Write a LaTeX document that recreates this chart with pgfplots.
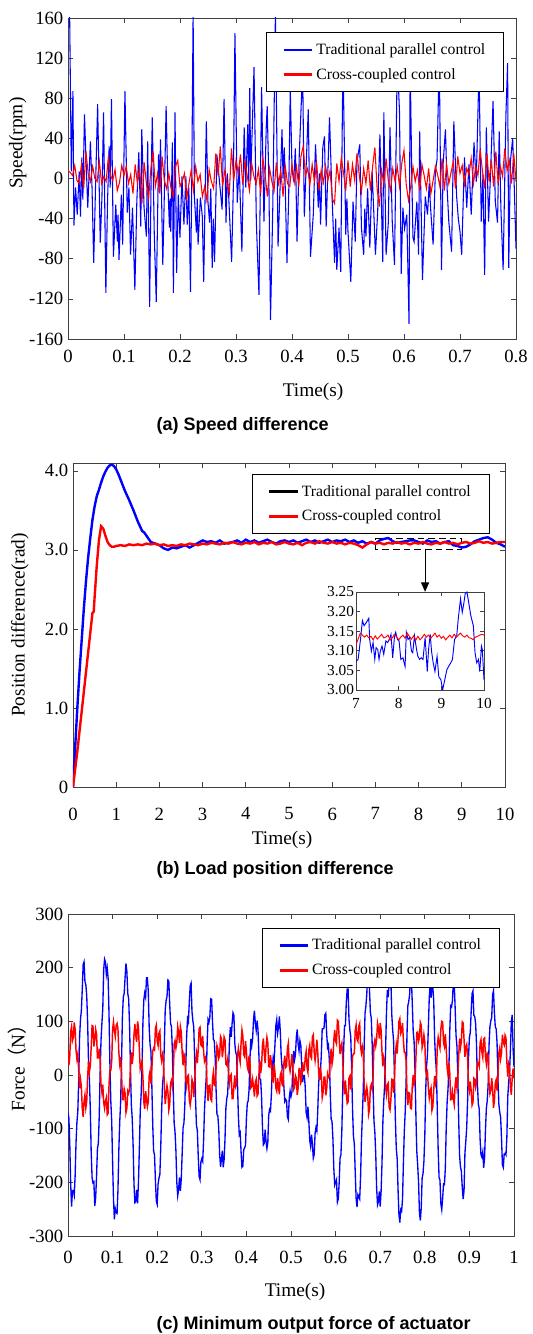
\documentclass[border=0pt]{standalone}
\usepackage{pgfplots}
\usepackage{pgfplotstable}
\pgfplotsset{compat=1.18}
\usepackage{fontspec}
\setmainfont{Liberation Serif}
\newfontfamily\arialf{Liberation Sans}
\newfontfamily\cjk{Noto Sans CJK SC}
\usetikzlibrary{arrows.meta}

% ---------------- panel (a) data: t in ms ----------------
\pgfplotstableread{
t v
0 165
3 160
5.9 7
8.8 87
10.6 -47
13.5 -9
16.5 -36
20 7
22.3 -38
24.7 21
26.5 -21
29.4 64
32.3 17
35.3 -29
40 37
42.9 -9
45.9 -84
49.4 -3
52.9 74
57.6 -64
60.6 -19
63.5 66
67.6 -114
70.6 -23
73.5 32
75.3 -9
77.6 79
81.1 -78
85.3 -26
88.2 -63
89.4 -36
91.1 -81
95.3 -16
97.6 -66
101.7 87
105.8 -34
108.8 -9
111.7 -76
115.2 -29
119.4 -111
122.9 -23
126.4 26
130 -48
131.7 49
135.8 -29
140 -58
142.3 37
145.8 -128
148.2 -9
150.5 61
154 -54
157.6 -123
161.7 24
163.5 -9
165.2 39
169.3 -86
172.3 -9
175.2 72
178.2 -3
181.1 -49
182.3 -20
183.5 -53
186.4 36
188.2 -114
191.1 66
194 -94
197 -16
199.9 -59
203.5 2
207 -46
210.5 2
212.9 -46
215.8 -9
218.7 -113
221 -3
223.4 165
225.8 -19
229.3 -54
230.8 -20
232.3 -66
236.4 -19
239.9 -38
242.3 -103
247 57
249.9 -23
252.8 -44
255 -10
257.5 -89
259.5 -40
261.7 -83
265.8 24
270.5 -3
275.2 -31
278.7 79
282.2 -44
284.5 5
287 -18
292.2 -83
295.2 -9
298.1 145
302.2 -24
305.8 12
310.5 -73
314.6 51
317.5 -9
321 54
322.8 -3
324.6 90
326.3 -1
332.2 111
336.3 -43
341 -116
345.7 91
349.9 -43
354 51
355.7 72
358.7 -3
361.6 -141
365.7 -29
370.4 165
375.1 -68
378.7 -9
382.2 49
384 0
386.3 31
391 -84
394 -20
396.9 89
400 10
403 -3
406 30
409 -63
413 24
419 110
422 -38
429 69
433 -78
438 -36
442 34
447 -29
449 5
451 -46
455 31
458 42
461 -48
467 61
471 -10
476 -84
478 -40
480 -91
484 -49
487 -93
491 120
496 -56
498 -20
500 -53
505 -103
509 -23
513 -63
516 17
521 34
524 -49
528 -76
530 -30
532 -58
535 -10
539 -69
543 7
546 -33
549 -76
553 -33
557 44
562 -83
564 66
568 -76
572 -44
575 51
579 -43
583 -86
588 120
592 66
595 -95
598 -29
601 -50
605 -36
609 -145
611 115
614 0
616 -59
618 -63
623 -23
626 -76
628 47
633 -101
638 -18
642 -36
645 -5
648 -34
652 -66
656 7
659 19
663 120
667 -91
670 16
674 49
677 -10
680 -43
685 -73
689 57
694 -18
697 -40
700 -53
703 -76
708 21
712 -29
716 14
720 -36
725 36
729 -3
734 110
738 -43
741 4
744 -96
747 51
751 -43
754 -3
759 77
763 -23
767 -44
770 47
773 -29
777 -91
782 64
785 115
787 -89
790 17
794 40
797 -10
800 -70
}\tblAblue

\pgfplotstableread{
t v
0 8
4 6
8 3
12 13
16 -2
20 -5
24 14
28 -10
32 27
36 5
40 -3
44 12
48 0
52 -3
56 17
60 -5
64 2
68 -3
72 21
76 3
80 -2
84 9
88 -12
92 -4
96 13
100 3
104 12
108 -5
112 4
116 -15
120 14
124 -5
128 10
132 -25
136 16
140 -5
144 -20
148 10
152 27
156 -8
160 5
164 -15
168 22
172 -2
176 -10
180 5
184 -10
188 -18
192 12
196 18
200 -8
204 -3
208 5
212 -20
216 -5
220 8
224 -12
228 12
232 -3
236 4
240 -18
244 -8
248 -22
252 9
256 -3
260 -10
264 25
268 3
272 32
276 -8
280 8
284 -6
288 -15
292 30
296 -2
300 18
304 5
308 24
312 -6
316 17
320 3
324 -12
328 15
332 2
336 -5
340 9
344 -15
348 20
352 4
356 -18
360 10
364 -3
368 -12
372 16
376 -5
380 8
384 -18
388 12
392 -5
396 -8
400 14
404 -4
408 12
412 -8
416 22
420 32
424 3
428 10
432 -6
436 14
440 -3
444 15
448 -12
452 8
456 -4
460 12
464 -2
468 8
472 -20
476 -25
480 15
484 -3
488 20
492 6
496 -12
500 18
504 -8
508 14
512 -2
516 25
520 4
524 -13
528 10
532 -5
536 18
540 -12
544 12
548 31
552 -10
556 -28
560 8
564 -5
568 20
572 -2
576 -12
580 10
584 -3
588 12
592 -8
596 15
600 28
604 -6
608 -22
612 -8
616 12
620 -3
624 8
628 -12
632 14
636 3
640 -10
644 10
648 -15
652 -2
656 12
660 4
664 -8
668 20
672 -12
676 14
680 -5
684 6
688 17
692 -10
696 22
700 5
704 13
708 -6
712 10
716 4
720 20
724 -5
728 12
732 3
736 29
740 8
744 -10
748 25
752 -3
756 18
760 -8
764 27
768 -5
772 12
776 2
780 30
784 8
788 18
792 -5
796 25
800 -3
}\tblAred

% ---------------- panel (b) data: t in s ----------------
\pgfplotstableread{
t v
0 0
0.05 0.5
0.1 1.0
0.15 1.45
0.2 1.85
0.25 2.25
0.3 2.6
0.35 2.9
0.4 3.15
0.45 3.38
0.5 3.55
0.55 3.68
0.6 3.76
0.65 3.85
0.7 3.93
0.75 3.99
0.8 4.04
0.85 4.07
0.9 4.08
0.95 4.06
1.0 4.02
1.05 3.96
1.1 3.89
1.15 3.82
1.2 3.75
1.3 3.63
1.4 3.5
1.5 3.36
1.6 3.24
1.65 3.22
1.7 3.18
1.8 3.1
1.9 3.08
2.0 3.06
2.1 3.02
2.2 3.0
2.3 3.03
2.4 3.02
2.5 3.04
2.6 3.06
2.7 3.03
2.8 3.06
2.9 3.09
3.0 3.12
3.1 3.1
3.2 3.11
3.3 3.09
3.4 3.12
3.5 3.08
3.6 3.09
3.7 3.1
3.8 3.12
3.9 3.09
4.0 3.13
4.1 3.1
4.2 3.12
4.3 3.09
4.4 3.11
4.5 3.13
4.6 3.1
4.7 3.08
4.8 3.11
4.9 3.12
5.0 3.1
5.1 3.12
5.2 3.09
5.3 3.11
5.4 3.13
5.5 3.1
5.6 3.12
5.7 3.09
5.8 3.11
5.9 3.13
6.0 3.1
6.1 3.12
6.2 3.11
6.3 3.13
6.4 3.1
6.5 3.12
6.6 3.09
6.7 3.11
6.8 3.08
6.9 3.1
7.0 3.08
7.1 3.12
7.2 3.14
7.3 3.15
7.4 3.11
7.5 3.09
7.6 3.1
7.7 3.11
7.8 3.12
7.9 3.12
8.0 3.1
8.1 3.08
8.2 3.12
8.3 3.1
8.4 3.11
8.5 3.08
8.6 3.1
8.7 3.11
8.8 3.06
8.9 3.05
9.0 3.03
9.1 3.04
9.2 3.07
9.3 3.11
9.4 3.13
9.5 3.15
9.6 3.16
9.7 3.13
9.8 3.09
9.9 3.07
10.0 3.04
}\tblBblue

\pgfplotstableread{
t v
0 0
0.1 0.45
0.2 0.95
0.3 1.45
0.4 1.95
0.45 2.2
0.48 2.22
0.5 2.4
0.55 2.8
0.6 3.12
0.65 3.3
0.7 3.27
0.75 3.18
0.8 3.1
0.85 3.06
0.9 3.04
0.95 3.04
1.0 3.05
1.1 3.06
1.2 3.05
1.3 3.07
1.4 3.06
1.5 3.07
1.6 3.06
1.7 3.08
1.8 3.07
1.9 3.08
2.0 3.06
2.1 3.07
2.2 3.05
2.3 3.06
2.4 3.05
2.5 3.07
2.6 3.06
2.7 3.08
2.8 3.07
2.9 3.06
3.0 3.08
3.1 3.07
3.2 3.09
3.3 3.08
3.4 3.07
3.5 3.09
3.6 3.08
3.7 3.1
3.8 3.08
3.9 3.07
4.0 3.09
4.1 3.08
4.2 3.1
4.3 3.07
4.4 3.09
4.5 3.08
4.6 3.1
4.7 3.07
4.8 3.08
4.9 3.1
5.0 3.08
5.1 3.07
5.2 3.09
5.3 3.06
5.4 3.09
5.5 3.1
5.6 3.08
5.7 3.11
5.8 3.09
5.9 3.08
6.0 3.1
6.1 3.08
6.2 3.09
6.3 3.07
6.4 3.09
6.5 3.08
6.6 3.06
6.7 3.03
6.8 3.07
6.9 3.1
7.0 3.08
7.1 3.09
7.2 3.07
7.3 3.09
7.4 3.08
7.5 3.1
7.6 3.08
7.7 3.09
7.8 3.07
7.9 3.09
8.0 3.08
8.1 3.1
8.2 3.08
8.3 3.07
8.4 3.09
8.5 3.08
8.6 3.1
8.7 3.08
8.8 3.09
8.9 3.07
9.0 3.09
9.1 3.1
9.2 3.08
9.3 3.09
9.4 3.11
9.5 3.09
9.6 3.1
9.7 3.08
9.8 3.09
9.9 3.1
10.0 3.1
}\tblBred

\pgfplotstableread{
t v
7.0 3.073
7.05 3.078
7.11 3.134
7.15 3.177
7.19 3.164
7.24 3.172
7.30 3.183
7.32 3.129
7.36 3.099
7.40 3.121
7.44 3.078
7.47 3.108
7.51 3.103
7.54 3.078
7.57 3.099
7.61 3.112
7.65 3.091
7.70 3.125
7.74 3.121
7.78 3.129
7.82 3.142
7.86 3.082
7.90 3.134
7.93 3.147
7.97 3.129
8.01 3.125
8.05 3.078
8.10 3.082
8.15 3.060
8.18 3.147
8.22 3.129
8.26 3.134
8.30 3.099
8.33 3.095
8.37 3.138
8.42 3.103
8.45 3.086
8.49 3.078
8.53 3.082
8.57 3.078
8.62 3.134
8.67 3.047
8.70 3.103
8.74 3.142
8.77 3.099
8.81 3.069
8.85 3.047
8.90 3.086
8.94 3.034
8.99 3.026
9.03 3.0
9.08 3.026
9.13 3.052
9.17 3.060
9.22 3.069
9.26 3.078
9.31 3.129
9.36 3.138
9.40 3.185
9.45 3.233
9.49 3.198
9.52 3.216
9.56 3.246
9.60 3.25
9.64 3.224
9.69 3.19
9.75 3.164
9.79 3.095
9.83 3.069
9.87 3.078
9.90 3.047
9.94 3.112
9.96 3.103
10.0 3.026
}\tblIblue

\pgfplotstableread{
t v
7.0 3.115
7.05 3.13
7.1 3.145
7.15 3.14
7.2 3.135
7.25 3.14
7.3 3.133
7.35 3.137
7.4 3.128
7.45 3.138
7.5 3.13
7.55 3.136
7.6 3.142
7.65 3.133
7.7 3.135
7.75 3.14
7.8 3.127
7.85 3.133
7.9 3.142
7.95 3.136
8.0 3.128
8.05 3.135
8.1 3.14
8.15 3.132
8.2 3.145
8.25 3.137
8.3 3.13
8.35 3.138
8.4 3.127
8.45 3.137
8.5 3.128
8.55 3.134
8.6 3.142
8.65 3.135
8.7 3.14
8.75 3.132
8.8 3.138
8.85 3.145
8.9 3.135
8.95 3.14
9.0 3.132
9.05 3.137
9.1 3.128
9.15 3.134
9.2 3.14
9.25 3.133
9.3 3.142
9.35 3.135
9.4 3.14
9.45 3.145
9.5 3.138
9.55 3.135
9.6 3.14
9.65 3.133
9.7 3.132
9.75 3.128
9.8 3.135
9.85 3.137
9.9 3.14
9.95 3.142
10.0 3.14
}\tblIred

% ---------------- panel (c) data: t in ms ----------------
\pgfplotstableread{
t v
0 -70
2 -80
4 -129
6 -203
8 -245
10 -216
12 -215
14 -224
16 -188
18 -126
20 -88
22 -68
24 -11
26 71
28 104
30 120
32 160
34 206
36 211
38 174
40 168
42 148
44 99
46 24
48 -7
50 -64
52 -144
54 -191
56 -201
58 -199
60 -244
62 -229
64 -189
66 -138
68 -127
70 -78
72 3
74 64
76 96
78 124
80 196
82 216
84 211
86 187
88 199
90 180
92 112
94 20
96 -49
98 -86
100 -162
102 -232
104 -269
106 -249
108 -256
110 -258
112 -215
114 -139
116 -87
118 -51
120 22
122 108
124 145
126 152
128 182
130 208
132 193
134 152
136 142
138 93
140 15
142 -55
144 -81
146 -131
148 -204
150 -238
152 -236
154 -214
156 -239
158 -200
160 -137
162 -67
164 -36
166 15
168 98
170 140
172 153
174 145
176 181
178 181
180 156
182 89
184 57
186 43
188 -20
190 -93
192 -142
194 -149
196 -196
198 -235
200 -241
202 -203
204 -192
206 -185
208 -134
210 -64
212 -18
214 1
216 56
218 122
220 139
222 146
224 177
226 175
228 133
230 96
232 90
234 46
236 -27
238 -89
240 -106
242 -142
244 -201
246 -225
248 -213
250 -191
252 -216
254 -193
256 -146
258 -98
260 -89
262 -55
264 12
266 73
268 105
270 99
272 137
274 166
276 171
278 118
280 101
282 89
284 29
286 -45
288 -94
290 -103
292 -151
294 -189
296 -195
298 -162
300 -156
302 -161
304 -122
306 -65
308 -32
310 -4
312 60
314 103
316 98
318 108
320 142
322 141
324 99
326 66
328 64
330 33
332 -27
334 -74
336 -76
338 -100
340 -148
342 -171
344 -157
346 -141
348 -172
350 -158
352 -120
354 -62
356 -44
358 -35
360 6
362 62
364 89
366 71
368 97
370 116
372 111
374 59
376 42
378 37
380 -16
382 -76
384 -111
386 -107
388 -142
390 -172
392 -170
394 -139
396 -136
398 -131
400 -82
402 -53
404 -48
406 -27
408 31
410 67
412 55
414 68
416 104
418 120
420 96
422 83
424 101
426 84
428 38
430 -7
432 -9
434 -41
436 -96
438 -130
440 -127
442 -102
444 -124
446 -137
448 -126
450 -75
452 -64
454 -67
456 -37
458 11
460 32
462 22
464 56
466 92
468 103
470 78
472 89
474 109
476 81
478 36
480 14
482 16
484 -21
486 -49
488 -45
490 -48
492 -78
494 -83
496 -44
498 -30
500 -40
502 -32
504 13
506 45
508 28
510 38
512 71
514 85
516 58
518 45
520 64
522 55
524 18
526 -13
528 -1
530 -1
532 -24
534 -70
536 -79
538 -59
540 -86
542 -122
544 -133
546 -111
548 -129
550 -155
552 -148
554 -109
556 -98
558 -104
560 -66
562 -17
564 9
566 6
568 38
570 86
572 86
574 87
576 112
578 115
580 77
582 51
584 56
586 26
588 -32
590 -82
592 -87
594 -119
596 -174
598 -205
600 -200
602 -195
604 -237
606 -231
608 -201
610 -155
612 -148
614 -103
616 -26
618 47
620 92
622 92
624 136
626 160
628 160
630 104
632 84
634 71
636 10
638 -64
640 -114
642 -128
644 -181
646 -230
648 -246
650 -223
652 -227
654 -231
656 -190
658 -121
660 -75
662 -29
664 53
666 115
668 129
670 152
672 198
674 198
676 158
678 116
680 106
682 58
684 -19
686 -85
688 -107
690 -147
692 -211
694 -242
696 -236
698 -217
700 -245
702 -217
704 -165
706 -87
708 -48
710 -18
712 44
714 115
716 158
718 145
720 176
722 188
724 176
726 112
728 84
730 64
732 -4
734 -82
736 -136
738 -155
740 -213
742 -260
744 -275
746 -251
748 -254
750 -232
752 -165
754 -106
756 -70
758 -16
760 73
762 129
764 137
766 150
768 186
770 179
772 132
774 81
776 62
778 8
780 -73
782 -142
784 -167
786 -200
788 -257
790 -271
792 -248
794 -192
796 -184
798 -161
800 -114
802 -29
804 17
806 38
808 90
810 144
812 169
814 144
816 162
818 163
820 139
822 68
824 32
826 7
828 -65
830 -140
832 -191
834 -196
836 -240
838 -251
840 -230
842 -203
844 -204
846 -174
848 -100
850 -52
852 -27
854 10
856 82
858 129
860 127
862 139
864 174
866 170
868 126
870 74
872 54
874 -1
876 -84
878 -150
880 -172
882 -179
884 -210
886 -231
888 -215
890 -145
892 -123
894 -97
896 -47
898 32
900 70
902 79
904 119
906 152
908 157
910 111
912 109
914 95
916 56
918 -17
920 -54
922 -63
924 -120
926 -149
928 -153
930 -143
932 -173
934 -154
936 -103
938 -62
940 -48
942 -18
944 55
946 90
948 101
950 107
952 149
954 157
956 117
958 90
960 86
962 60
964 -7
966 -54
968 -69
970 -79
972 -117
974 -167
976 -172
978 -147
980 -146
982 -149
984 -116
986 -41
988 -14
990 5
992 47
994 100
996 112
998 48
1000 15
}\tblCblue

\pgfplotstableread{
t v
0 44
2 18
4 35
6 81
8 90
10 64
12 70
14 98
16 85
18 46
20 30
22 39
24 7
26 -25
28 -8
30 -22
32 -63
34 -78
36 -49
38 -37
40 -61
42 -49
44 -4
46 25
48 6
50 17
52 52
54 92
56 91
58 53
60 65
62 85
64 76
66 32
68 32
70 49
72 30
74 -17
76 -32
78 -18
80 -51
82 -62
84 -49
86 -42
88 -74
90 -71
92 -18
94 9
96 9
98 25
100 85
102 99
104 83
106 72
108 92
110 96
112 86
114 42
116 21
118 33
120 5
122 -46
124 -46
126 -26
128 -34
130 -70
132 -62
134 -30
136 -34
138 -26
140 15
142 42
144 21
146 37
148 76
150 95
152 73
154 62
156 100
158 88
160 47
162 11
164 18
166 25
168 -5
170 -50
172 -63
174 -30
176 -44
178 -59
180 -50
182 -2
184 7
186 -16
188 11
190 45
192 50
194 47
196 87
198 93
200 63
202 55
204 78
206 82
208 37
210 26
212 38
214 29
216 -21
218 -54
220 -37
222 -20
224 -31
226 -65
228 -55
230 -15
232 -10
234 -21
236 1
238 57
240 64
242 50
244 60
246 90
248 79
250 60
252 90
254 80
256 41
258 18
260 39
262 34
264 -8
266 -21
268 -2
270 0
272 -46
274 -56
276 -42
278 -8
280 -14
282 -41
284 -17
286 26
288 40
290 22
292 47
294 86
296 89
298 56
300 54
302 73
304 44
306 26
308 32
310 24
312 -25
314 -48
316 -20
318 -19
320 -45
322 -48
324 -7
326 5
328 -19
330 -20
332 12
334 55
336 49
338 31
340 36
342 72
344 68
346 33
348 48
350 71
352 66
354 20
356 18
358 29
360 4
362 -15
364 -2
366 1
368 -44
370 -44
372 -20
374 -1
376 -22
378 -18
380 36
382 49
384 34
386 24
388 58
390 84
392 73
394 38
396 34
398 63
400 44
402 15
404 9
406 36
408 23
410 -24
412 -21
414 -8
416 -23
418 -40
420 -13
422 -8
424 -39
426 -36
428 0
430 26
432 3
434 17
436 55
438 68
440 41
442 22
444 52
446 70
448 60
450 16
452 15
454 37
456 23
458 -10
460 -12
462 21
464 6
466 -24
468 -30
470 -6
472 -22
474 -36
476 0
478 5
480 -18
482 -20
484 21
486 36
488 14
490 16
492 50
494 59
496 19
498 7
500 18
502 39
504 20
506 -27
508 -23
510 -1
512 -6
514 -37
516 -24
518 12
520 12
522 -14
524 -9
526 24
528 8
530 9
532 34
534 44
536 13
538 5
540 46
542 55
544 35
546 31
548 71
550 75
552 43
554 27
556 42
558 66
560 42
562 5
564 -9
566 14
568 -2
570 -42
572 -32
574 -4
576 -4
578 -38
580 -27
582 2
584 -5
586 -4
588 29
590 49
592 20
594 31
596 65
598 84
600 63
602 58
604 102
606 100
608 69
610 39
612 52
614 59
616 30
618 -19
620 -36
622 -10
624 -32
626 -53
628 -50
630 -6
632 -2
634 -27
636 -1
638 34
640 40
642 40
644 83
646 93
648 67
650 63
652 91
654 96
656 53
658 41
660 52
662 40
664 -13
666 -50
668 -36
670 -23
672 -37
674 -73
676 -64
678 -23
680 -18
682 -26
684 -2
686 56
688 65
690 54
692 66
694 97
696 88
698 68
700 97
702 84
704 43
706 16
708 33
710 24
712 -21
714 -36
716 -18
718 -15
720 -60
722 -65
724 -46
726 -8
728 -9
730 -33
732 -6
734 39
736 56
738 40
740 68
742 100
744 105
746 77
748 81
750 97
752 65
754 42
756 42
758 27
760 -29
762 -56
764 -33
766 -34
768 -62
770 -63
772 -19
774 0
776 -17
778 -9
780 30
782 79
784 80
786 63
788 69
790 98
792 93
794 51
796 59
798 75
800 62
802 9
804 -1
806 5
808 -24
810 -43
812 -30
814 -24
816 -66
818 -59
820 -28
822 -2
824 -16
826 -6
828 53
830 70
832 58
834 50
836 85
838 100
840 99
842 60
844 53
846 76
848 51
850 14
852 1
854 23
856 4
858 -46
860 -45
862 -31
864 -45
866 -55
868 -20
870 -4
872 -23
874 -9
876 37
878 68
880 51
882 63
884 99
886 97
888 66
890 34
892 52
894 57
896 34
898 -20
900 -30
902 -12
904 -29
906 -56
908 -51
910 -6
912 -8
914 -23
916 -14
918 24
920 22
922 16
924 60
926 66
928 43
930 33
932 67
934 69
936 34
938 21
940 40
942 36
944 -16
946 -35
948 -29
950 -6
952 -23
954 -61
956 -49
958 -15
960 -9
962 -29
964 -5
966 41
968 50
970 30
972 41
974 75
976 61
978 56
980 74
982 69
984 24
986 -3
988 20
990 12
992 -24
994 -37
996 -5
998 12
1000 -6
}\tblCred

\pgfplotsset{
  matlab/.style={
    scale only axis,
    axis line style={draw=black!75, line width=0.6pt},
    tick style={draw=black!75, line width=0.5pt},
    major tick length=4pt,
    tick align=inside,
    tick pos=both,
    ticklabel style={font=\fontsize{14}{14}\selectfont},
    label style={font=\fontsize{14.5}{16}\selectfont},
    /pgf/number format/assume math mode=true,
    legend cell align=left,
    legend image code/.code={\draw[##1] (0pt,0pt) -- (21.5pt,0pt);},
  },
  mylegend/.style={
    legend style={at={(#1)}, anchor=north east, draw=black, line width=0.7pt,
      fill=white, font=\fontsize{11.8}{13}\selectfont,
      inner xsep=12pt, inner ysep=6pt, row sep=5pt},
  },
}

\begin{document}
\begin{tikzpicture}
\path[use as bounding box] (0pt,0pt) rectangle (399pt,1000.5pt);

% ================= panel (a) =================
\begin{axis}[matlab,
  at={(51pt,746.25pt)}, anchor=south west,
  width=336pt, height=240.75pt,
  xmin=0, xmax=0.8, ymin=-160, ymax=160,
  xtick={0,0.1,0.2,0.3,0.4,0.5,0.6,0.7,0.8},
  xticklabels={0,0.1,0.2,0.3,0.4,0.5,0.6,0.7,0.8},
  ytick={-160,-120,-80,-40,0,40,80,120,160},
  yticklabels={-160,-120,-80,-40,0,40,80,120,160},
  xticklabel style={yshift=-5pt},
  xlabel={Time(s)}, ylabel={Speed(rpm)},
  xlabel style={at={(axis description cs:0.547,-0.165)}, anchor=center},
  ylabel style={at={(axis description cs:-0.112,0.61)}, anchor=center, rotate=0},
  mylegend={0.974,0.956},
]
\addplot[blue, line width=0.8pt, forget plot] table[x expr=\thisrow{t}/1000, y=v] {\tblAblue};
\addplot[red, line width=0.8pt, forget plot] table[x expr=\thisrow{t}/1000, y=v] {\tblAred};
\addlegendimage{blue, line width=1.8pt}
\addlegendentry{Traditional parallel control}
\addlegendimage{red, line width=1.8pt}
\addlegendentry{Cross-coupled control}
\end{axis}
\node[anchor=west, font=\arialf\bfseries\fontsize{13.5}{15}\selectfont] at (114pt,681pt) {(a) Speed difference};

% ================= panel (b) =================
\begin{axis}[matlab,
  at={(54.75pt,410.25pt)}, anchor=south west,
  width=324pt, height=243pt,
  xmin=0, xmax=10, ymin=0, ymax=4.1,
  xtick={0,1,2,3,4,5,6,7,8,9,10},
  ytick={0,1,2,3,4},
  yticklabels={0,1.0,2.0,3.0,4.0},
  xticklabel style={yshift=-12pt},
  xlabel={Time(s)}, ylabel={Position difference(rad)},
  xlabel style={at={(axis description cs:0.484,-0.163)}, anchor=center},
  ylabel style={at={(axis description cs:-0.123,0.5)}, anchor=center},
  mylegend={0.965,0.966},
]
\draw[black, line width=0.8pt, dash pattern=on 5pt off 3pt] (axis cs:7,3.0) rectangle (axis cs:9,3.14);
\draw[black, line width=0.8pt, -{Triangle[length=7pt,width=6pt]}] (axis cs:8.15,3.0) -- (axis cs:8.15,2.47);
\addplot[blue, line width=1.8pt, forget plot] table[x=t, y=v] {\tblBblue};
\addplot[red, line width=1.8pt, forget plot] table[x=t, y=v] {\tblBred};
\addlegendimage{black, line width=1.8pt}
\addlegendentry{Traditional parallel control}
\addlegendimage{red, line width=1.8pt}
\addlegendentry{Cross-coupled control}
\end{axis}

% inset
\begin{axis}[matlab,
  at={(267pt,483pt)}, anchor=south west,
  width=96pt, height=73.5pt,
  xmin=7, xmax=10, ymin=3.0, ymax=3.25,
  xtick={7,8,9,10},
  ytick={3.0,3.05,3.1,3.15,3.2,3.25},
  yticklabels={3.00,3.05,3.10,3.15,3.20,3.25},
  ticklabel style={font=\fontsize{11.5}{11.5}\selectfont},
  yticklabel style={xshift=2pt},
  xticklabel style={yshift=-3pt},
  major tick length=3pt,
  axis background/.style={fill=white},
]
\addplot[blue, line width=0.7pt] table[x=t, y=v] {\tblIblue};
\addplot[red, line width=0.7pt] table[x=t, y=v] {\tblIred};
\end{axis}
\node[anchor=west, font=\arialf\bfseries\fontsize{13.5}{15}\selectfont] at (114pt,348pt) {(b) Load position difference};

% ================= panel (c) =================
\begin{axis}[matlab,
  at={(51pt,73.5pt)}, anchor=south west,
  width=334.5pt, height=241.5pt,
  xmin=0, xmax=1, ymin=-300, ymax=300,
  xtick={0,0.1,0.2,0.3,0.4,0.5,0.6,0.7,0.8,0.9,1},
  xticklabels={0,0.1,0.2,0.3,0.4,0.5,0.6,0.7,0.8,0.9,1},
  ytick={-300,-200,-100,0,100,200,300},
  yticklabels={-300,-200,-100,0,100,200,300},
  xticklabel style={yshift=-8pt},
  xlabel={Time(s)}, ylabel={Force{\cjk（}N{\cjk）}},
  xlabel style={at={(axis description cs:0.509,-0.174)}, anchor=center},
  ylabel style={at={(axis description cs:-0.114,0.537)}, anchor=center},
  mylegend={0.969,0.957},
]
\addplot[blue, line width=1.0pt, forget plot] table[x expr=\thisrow{t}/1000, y=v] {\tblCblue};
\addplot[red, line width=1.1pt, forget plot] table[x expr=\thisrow{t}/1000, y=v] {\tblCred};
\addlegendimage{blue, line width=1.8pt}
\addlegendentry{Traditional parallel control}
\addlegendimage{red, line width=1.8pt}
\addlegendentry{Cross-coupled control}
\end{axis}
\node[anchor=west, font=\arialf\bfseries\fontsize{13.5}{15}\selectfont] at (114pt,6.75pt) {(c) Minimum output force of actuator};
\end{tikzpicture}
\end{document}
